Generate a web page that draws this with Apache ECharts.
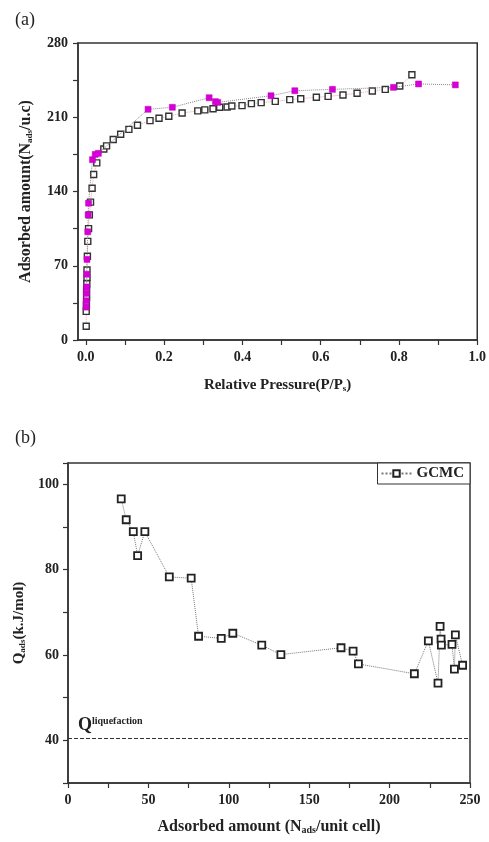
<!DOCTYPE html>
<html>
<head>
<meta charset="utf-8">
<script src="https://cdn.jsdelivr.net/npm/echarts@6/dist/echarts.min.js"></script>
<style>
  html, body { margin: 0; padding: 0; background: #fff; }
  #chart { width: 489px; height: 842px; }
</style>
</head>
<body>
<div id="chart"></div>
<script>
// (a) Isotherm: open squares (first branch)
const openP = [0.001, 0.001, 0.0015, 0.002, 0.002, 0.0025, 0.003, 0.003, 0.004, 0.005, 0.007, 0.009, 0.012, 0.016, 0.020, 0.028,
  0.046, 0.053, 0.070, 0.089, 0.110, 0.132, 0.164, 0.187, 0.212, 0.246, 0.286, 0.304, 0.325, 0.342, 0.361, 0.373,
  0.399, 0.423, 0.448, 0.484, 0.521, 0.549, 0.589, 0.619, 0.657, 0.693, 0.732, 0.765, 0.802, 0.833];
const openN = [13, 27, 33, 40, 47, 53, 59, 66, 79, 93, 105, 118, 130, 143, 156, 167,
  180, 183, 189, 194, 198.6, 202.4, 206.8, 209, 211, 214, 216, 217, 218, 219.4, 219.7, 220.6,
  221, 222.8, 223.8, 225, 226.6, 227.5, 228.8, 229.7, 231, 232.6, 234.8, 236.3, 239.5, 250];

// (a) Isotherm: filled magenta squares (second branch)
const fillP = [0.001, 0.001, 0.0015, 0.002, 0.0025, 0.003, 0.005, 0.006, 0.007, 0.017, 0.024, 0.032,
  0.159, 0.221, 0.315, 0.331, 0.337, 0.473, 0.534, 0.630, 0.786, 0.850, 0.944];
const fillN = [31, 37, 44, 50, 62, 76, 102, 118, 129, 170, 175, 176,
  217.5, 219.4, 228.4, 224.7, 224, 230.3, 235, 236.3, 238.2, 241.4, 240.5];

// (b) Isosteric heat vs loading
const nAds = [33.1, 36.2, 40.6, 43.3, 47.8, 63.0, 76.6, 81.2, 95.3, 102.5, 120.5, 132.4, 169.8, 177.3, 180.6,
  215.4, 224.1, 230.1, 231.4, 232.0, 232.2, 238.8, 240.3, 240.9, 245.4];
const qAds = [96.6, 91.7, 88.9, 83.3, 88.9, 78.3, 78.0, 64.4, 63.9, 65.1, 62.3, 60.1, 61.7, 60.9, 57.9,
  55.6, 63.3, 53.4, 66.7, 63.7, 62.3, 62.5, 56.7, 64.7, 57.6];
const qLiquefaction = 40.5;

// tick values
const isoXLabels = [0, 0.2, 0.4, 0.6, 0.8, 1.0];
const isoXTicks = [0, 0.1, 0.2, 0.3, 0.4, 0.5, 0.6, 0.7, 0.8, 0.9, 1.0];

const pair = (xs, ys) => xs.map((x, i) => [x, ys[i]]);

const SERIF = 'Liberation Serif';
const INK = '#222';
const bold = (size) => ({ fontFamily: SERIF, fontWeight: 'bold', fontSize: size, color: INK });

const axisCommon = {
  axisLine: { show: true, onZero: false, lineStyle: { color: '#333', width: 1.5 } },
  axisTick: { show: true, inside: false, length: 5, lineStyle: { color: '#333', width: 1.2 } },
  splitLine: { show: false }
};

const chart = echarts.init(document.getElementById('chart'));
chart.setOption({
  animation: false,
  backgroundColor: '#fff',
  title: [
    { text: '(a)', left: 10, top: 6, textStyle: { fontFamily: SERIF, fontWeight: 'normal', fontSize: 18, color: INK } },
    { text: '(b)', left: 10, top: 424, textStyle: { fontFamily: SERIF, fontWeight: 'normal', fontSize: 18, color: INK } }
  ],
  grid: [
    { left: 78, top: 43, width: 401, height: 297, show: true, borderColor: '#333', borderWidth: 1.5 },
    { left: 68, top: 463, width: 402, height: 320, show: true, borderColor: '#333', borderWidth: 1.5 }
  ],
  legend: {
    data: ['GCMC'],
    right: 19, top: 463,
    padding: [3, 6, 3, 3],
    itemGap: 4,
    borderColor: '#333', borderWidth: 1,
    backgroundColor: '#fff',
    itemWidth: 30, itemHeight: 8,
    textStyle: bold(15)
  },
  xAxis: [
    Object.assign({}, axisCommon, {
      gridIndex: 0, type: 'value', min: -0.02, max: 1.0,
      axisTick: Object.assign({}, axisCommon.axisTick, { customValues: isoXTicks }),
      axisLabel: Object.assign(bold(14), { margin: 10, customValues: isoXLabels, formatter: v => v.toFixed(1) }),
      name: '{m|Relative Pressure(P/P}{s|s}{m|)}',
      nameLocation: 'middle', nameGap: 38,
      nameTextStyle: { rich: { m: bold(15), s: Object.assign(bold(9), { verticalAlign: 'bottom' }) } }
    }),
    Object.assign({}, axisCommon, {
      gridIndex: 1, type: 'value', min: 0, max: 250, interval: 25,
      axisLabel: Object.assign(bold(14), { margin: 10, showMinLabel: true, showMaxLabel: true,
        formatter: v => (v % 50 === 0 ? String(v) : '') }),
      name: '{m|Adsorbed amount (N}{s|ads}{m|/unit cell)}',
      nameLocation: 'middle', nameGap: 36,
      nameTextStyle: { rich: { m: bold(16), s: Object.assign(bold(10), { verticalAlign: 'bottom' }) } }
    })
  ],
  yAxis: [
    Object.assign({}, axisCommon, {
      gridIndex: 0, type: 'value', min: 0, max: 280, interval: 35,
      axisLabel: Object.assign(bold(14), { margin: 10, formatter: v => (v % 70 === 0 ? String(v) : '') }),
      name: '{m|Adsorbed amount(N}{s|ads}{m|/u.c)}',
      nameLocation: 'middle', nameGap: 44, nameRotate: 90,
      nameTextStyle: { rich: { m: bold(16), s: Object.assign(bold(9), { verticalAlign: 'bottom' }) } }
    }),
    Object.assign({}, axisCommon, {
      gridIndex: 1, type: 'value', min: 30, max: 105, interval: 10,
      axisLabel: Object.assign(bold(14), { margin: 9,
        formatter: v => (v % 20 === 0 && v >= 40 && v <= 100 ? String(v) : '') }),
      name: '{m|Q}{s|ads}{m|(k.J/mol)}',
      nameLocation: 'middle', nameGap: 27, nameRotate: 90,
      nameTextStyle: { rich: { m: bold(15), s: Object.assign(bold(9), { verticalAlign: 'bottom' }) } }
    })
  ],
  series: [
    {
      name: 'branch1', type: 'line', xAxisIndex: 0, yAxisIndex: 0,
      data: pair(openP, openN),
      symbol: 'rect', symbolSize: 6,
      itemStyle: { color: '#fff', borderColor: '#333', borderWidth: 1.4 },
      lineStyle: { color: '#f3a3a3', width: 1, type: 'dotted' },
      z: 2
    },
    {
      name: 'branch2', type: 'line', xAxisIndex: 0, yAxisIndex: 0,
      data: pair(fillP, fillN),
      symbol: 'rect', symbolSize: 6,
      itemStyle: { color: '#d600d6', borderColor: '#c000c0', borderWidth: 0.5 },
      lineStyle: { color: '#8a8a8a', width: 1, type: 'dotted' },
      z: 3
    },
    {
      name: 'GCMC', type: 'line', xAxisIndex: 1, yAxisIndex: 1,
      data: pair(nAds, qAds),
      symbol: 'rect', symbolSize: 7,
      itemStyle: { color: '#fff', borderColor: '#222', borderWidth: 1.8 },
      lineStyle: { color: '#777', width: 1, type: 'dotted' },
      markLine: {
        silent: true, symbol: ['none', 'none'],
        lineStyle: { color: '#333', width: 1, type: 'dashed' },
        label: {
          show: true, position: 'insideStartTop', distance: [10, 4],
          formatter: '{q|Q}{s|liquefaction}',
          rich: {
            q: bold(18),
            s: Object.assign(bold(10), { verticalAlign: 'top' })
          }
        },
        data: [{ yAxis: qLiquefaction }]
      }
    }
  ]
});
</script>
</body>
</html>
